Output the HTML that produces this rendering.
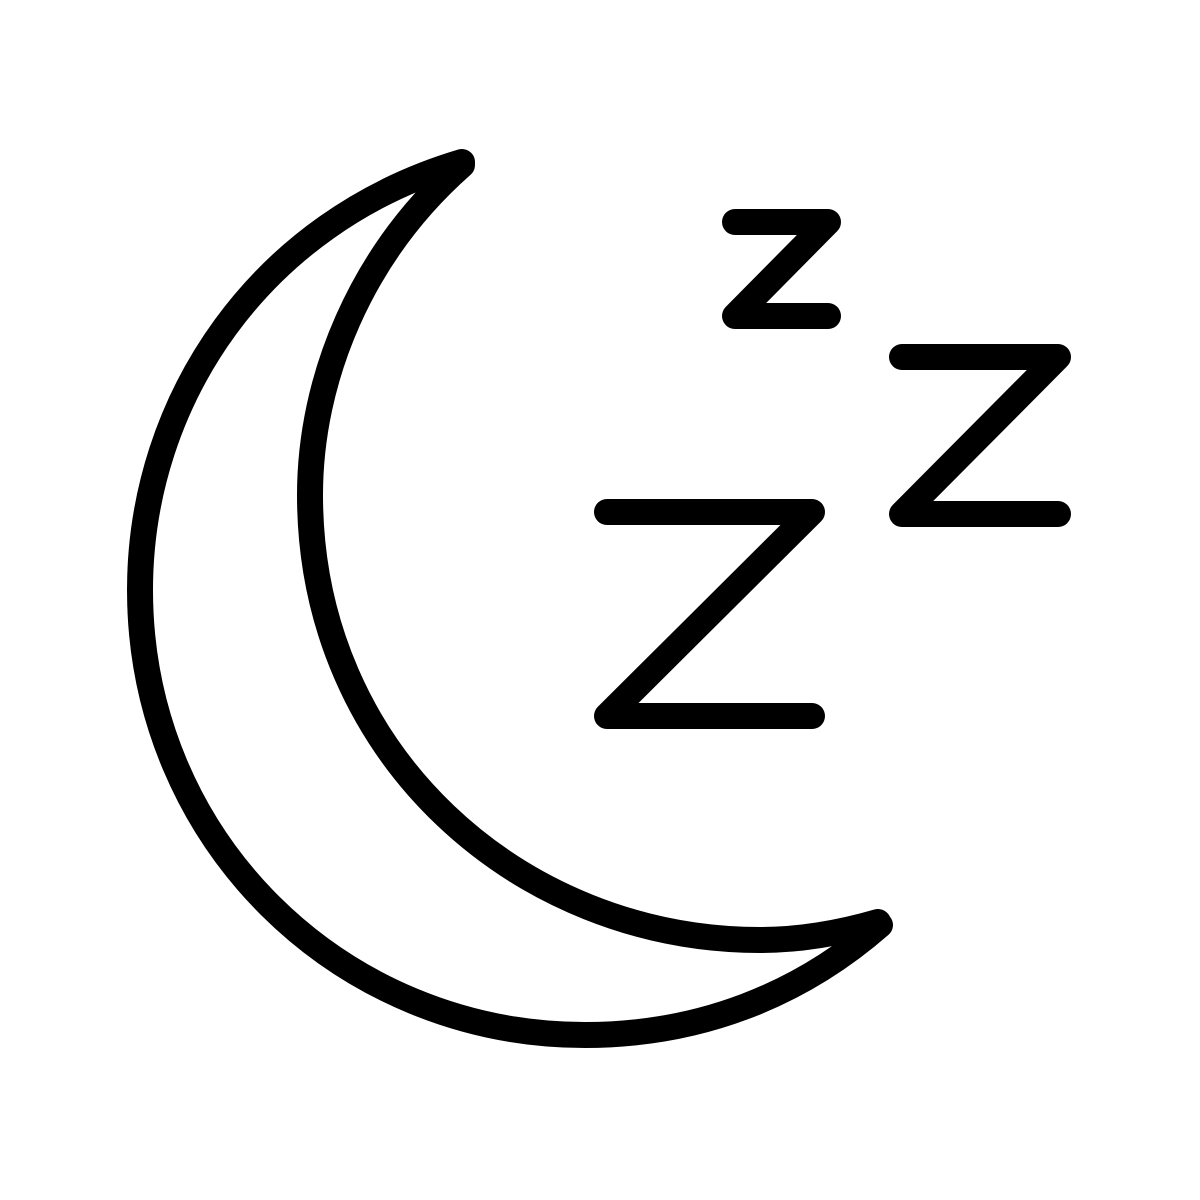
<!DOCTYPE html>
<html><head><style>html,body{margin:0;padding:0;background:#fff}svg{display:block}</style></head>
<body>
<svg width="1200" height="1200" viewBox="0 0 1200 1200" xmlns="http://www.w3.org/2000/svg">
<g fill="none" stroke="#000" stroke-width="26" stroke-linecap="round" stroke-linejoin="round">
<path d="M462,162 C 260,222 140,400 140,590 C 140,840 340,1035 585,1035 C 700,1035 800,995 880,925"/>
<path d="M462,165 C 360,255 310,380 310,495 C 310,755 520,940 760,940 C 800,940 840,933 878,922"/>
<path d="M735,222 L828,222 L735,316 L828,316"/>
<path d="M902,357 L1058,357 L902,514 L1058,514"/>
<path d="M607,512 L812,512 L607,716 L812,716"/>
</g>
</svg>
</body></html>
